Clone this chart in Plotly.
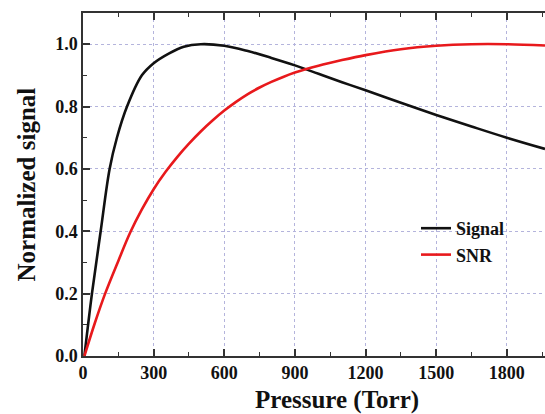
import plotly.graph_objects as go

# Data
pressure_signal = [6, 38, 75, 113, 144, 187, 250, 300, 364, 428, 500, 600, 700, 800, 900,
                   1000, 1100, 1200, 1350, 1500, 1650, 1800, 1962]
signal_values = [0.0, 0.2, 0.4, 0.6, 0.7, 0.8, 0.9, 0.939, 0.97, 0.992, 1.0, 0.995, 0.978,
                 0.956, 0.932, 0.905, 0.878, 0.852, 0.812, 0.773, 0.736, 0.70, 0.664]

pressure_snr = [6, 50, 94, 150, 200, 250, 300, 350, 400, 450, 500, 550, 600, 650, 700, 750,
                800, 850, 900, 1000, 1100, 1200, 1350, 1500, 1650, 1800, 1962]
snr_values = [0.0, 0.105, 0.2, 0.305, 0.395, 0.47, 0.535, 0.59, 0.638, 0.681, 0.72, 0.755,
              0.787, 0.815, 0.84, 0.861, 0.879, 0.895, 0.909, 0.931, 0.949, 0.965, 0.984,
              0.995, 1.0, 1.0, 0.996]

x_ticks = [0, 300, 600, 900, 1200, 1500, 1800]
y_ticks = [0.0, 0.2, 0.4, 0.6, 0.8, 1.0]

FONT = "Liberation Serif, Times New Roman, serif"
W, H = 545, 414
ML, MR, MT, MB = 83, 0, 13, 58

fig = go.Figure()
fig.add_trace(go.Scatter(x=pressure_signal, y=signal_values, mode="lines", name="<b>Signal</b>",
                         line=dict(color="#111111", width=2.6, shape="spline", smoothing=1.0)))
fig.add_trace(go.Scatter(x=pressure_snr, y=snr_values, mode="lines", name="<b>SNR</b>",
                         line=dict(color="#e8191c", width=2.6, shape="spline", smoothing=1.0)))

grid = dict(showgrid=True, gridcolor="#b4b4dc", gridwidth=1, griddash="dot")

fig.update_xaxes(range=[0, 1962], tickvals=x_ticks, ticktext=[f"<b>{v}</b>" for v in x_ticks],
                 ticks="inside", ticklen=7, tickwidth=1.5, tickcolor="#333333",
                 showline=True, linecolor="#333333", linewidth=1.5, mirror="ticks",
                 minor=dict(dtick=150, ticks="inside", ticklen=4, tickwidth=1.3,
                            tickcolor="#333333", showgrid=False),
                 tickfont=dict(family=FONT, size=18, color="#111111"),
                 zeroline=False, **grid)
fig.update_yaxes(range=[0, 1.1], tickvals=y_ticks, ticktext=[f"<b>{v:.1f}</b>" for v in y_ticks],
                 ticks="inside", ticklen=7, tickwidth=1.5, tickcolor="#333333",
                 showline=True, linecolor="#333333", linewidth=1.5, mirror=False,
                 minor=dict(dtick=0.1, ticks="inside", ticklen=4, tickwidth=1.3,
                            tickcolor="#333333", showgrid=False),
                 tickfont=dict(family=FONT, size=18, color="#111111"),
                 zeroline=False, **grid)

plot_w = W - ML - MR
plot_h = H - MT - MB

fig.add_annotation(text="<b>Pressure (Torr)</b>", xref="paper", yref="paper",
                   x=(337 - ML) / plot_w, y=-(400 - (H - MB)) / plot_h,
                   xanchor="center", yanchor="middle", showarrow=False,
                   font=dict(family=FONT, size=25, color="#111111"))
fig.add_annotation(text="<b>Normalized signal</b>", xref="paper", yref="paper",
                   x=-(ML - 26) / plot_w, y=0.5, textangle=-90,
                   xanchor="center", yanchor="middle", showarrow=False,
                   font=dict(family=FONT, size=25, color="#111111"))

fig.update_layout(
    width=W, height=H,
    font=dict(family=FONT, color="#111111"),
    margin=dict(l=ML, r=MR, t=MT, b=MB),
    paper_bgcolor="white", plot_bgcolor="white",
    showlegend=True,
    legend=dict(x=(416 - ML) / plot_w, y=1 - (210 - MT) / plot_h, xanchor="left", yanchor="top",
                bgcolor="rgba(0,0,0,0)", borderwidth=0,
                font=dict(family=FONT, size=18, color="#111111"),
                tracegroupgap=0, itemwidth=30),
)

fig.write_html("out.html")
